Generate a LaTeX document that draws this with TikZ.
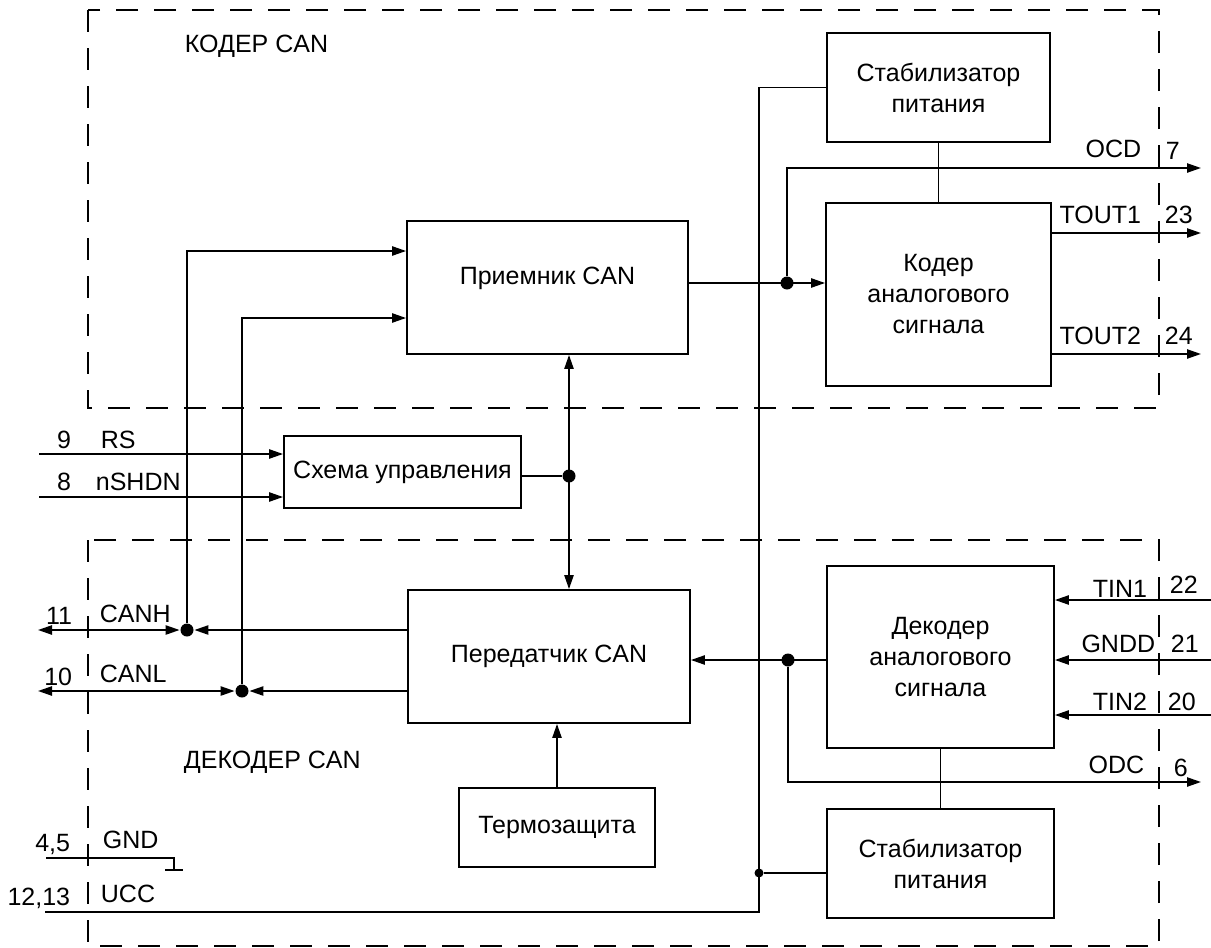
\documentclass[tikz,border=0pt]{standalone}
\usepackage{fontspec}
\setmainfont{Liberation Sans}
\usetikzlibrary{arrows.meta,positioning,calc}

\begin{document}
\begin{tikzpicture}[
x=0.5pt,
y=-0.5pt,
line width=0.9pt,
every node/.style={font=\fontsize{12.5}{15.5}\selectfont},
blk/.style={rectangle,draw,align=center,inner sep=0pt},
frame/.style={draw,dash pattern=on 11pt off 8pt},
dot/.style={circle,fill,inner sep=0pt,minimum size=6.5pt},
sdot/.style={circle,fill,inner sep=0pt,minimum size=4.5pt},
arr/.style={-{Triangle[length=7pt,width=4.6pt]}},
darr/.style={{Triangle[length=7pt,width=4.6pt]}-{Triangle[length=7pt,width=4.6pt]}},
sigl/.style={inner sep=0pt,anchor=base west},
sigr/.style={inner sep=0pt,anchor=base east},
pinl/.style={inner sep=0pt,anchor=base east},
pinr/.style={inner sep=0pt,anchor=base west}
]
\useasboundingbox (0,0) rectangle (1211,948);

\draw[frame] (88,10) rectangle (1159,408);
\draw[frame] (88,540) rectangle (1159,946);
\node[sigl] (tcod) at (184,52) {КОДЕР CAN};
\node[sigl] (tdec) at (183,768) {ДЕКОДЕР CAN};

\node[blk,minimum width=111.5pt,minimum height=54.5pt] (stabc) at (938.5,87.5) {Стабилизатор\\питания};
\node[blk,minimum width=112.5pt,minimum height=91.5pt] (coder) at (938.5,294.5) {Кодер\\аналогового\\сигнала};
\node[blk,minimum width=140.5pt,minimum height=66.5pt,text height=9pt,text depth=12pt] (rx) at (547.5,287.5) {Приемник CAN};
\node[blk,minimum width=118.5pt,minimum height=36pt] (ctrl) at (402.5,472) {Схема управления};
\node[blk,minimum width=141pt,minimum height=66.5pt] (tx) at (549,656.5) {Передатчик CAN};
\node[blk,minimum width=98pt,minimum height=39.5pt] (termo) at (557,827.5) {Термозащита};
\node[blk,minimum width=113.5pt,minimum height=91pt] (dec) at (940.5,657) {Декодер\\аналогового\\сигнала};
\node[blk,minimum width=113.5pt,minimum height=54.5pt] (stabd) at (940.5,863.5) {Стабилизатор\\питания};

\node[dot] (jcod) at (787,283) {};
\node[dot] (jctl) at (569,476) {};
\node[dot] (jcanh) at (187,630) {};
\node[dot] (jcanl) at (242,691) {};
\node[dot] (jdec) at (788,660) {};
\node[sdot] (jucc) at (759,873) {};

\coordinate (p9) at (39,454);
\coordinate (p8) at (39,497);
\coordinate (p11) at (38,630);
\coordinate (p10) at (38,691);
\coordinate (p45) at (46,858);
\coordinate (gnd) at (174,870);
\coordinate (p1213) at (45,912);
\coordinate (p7) at (1201,168);
\coordinate (p23) at (1201,233);
\coordinate (p24) at (1201,354);
\coordinate (p22) at (1211,600);
\coordinate (p21) at (1211,660);
\coordinate (p20) at (1211,715);
\coordinate (p6) at (1201,782);

\draw[arr] (rx.east |- jcod) -- (coder.west |- jcod);
\draw[arr] (jcod) |- (p7);
\draw (stabc) -- (coder);
\draw[arr] (coder.east |- p23) -- (p23);
\draw[arr] (coder.east |- p24) -- (p24);
\draw[arr] (jcanh) |- ([yshift=18.25pt]rx.west);
\draw[arr] (jcanl) |- ([yshift=-15.25pt]rx.west);
\draw[arr] (p9) -- (ctrl.west |- p9);
\draw[arr] (p8) -- (ctrl.west |- p8);
\draw (ctrl.east |- jctl) -- (jctl);
\draw[darr] (jctl |- rx.south) -- (jctl |- tx.north);
\draw[arr] (tx.west |- jcanh) -- (jcanh);
\draw[darr] (p11) -- (jcanh);
\draw[arr] (tx.west |- jcanl) -- (jcanl);
\draw[darr] (p10) -- (jcanl);
\draw[arr] (termo.north) -- (termo.north |- tx.south);
\draw[arr] (dec.west |- jdec) -- (tx.east |- jdec);
\draw[arr] (jdec) |- (p6);
\draw (dec) -- (stabd);
\draw[arr] (p22) -- (dec.east |- p22);
\draw[arr] (p21) -- (dec.east |- p21);
\draw[arr] (p20) -- (dec.east |- p20);
\draw (p1213) -| (stabc.west -| jucc) -- (stabc.west);
\draw (jucc) -- (stabd.west |- jucc);
\draw (p45) -| (gnd);
\draw ($(gnd)+(-9,0)$) -- ($(gnd)+(9,0)$);

\node[pinl] (n9) at (72,448) {9};
\node[sigl] (lrs) at (100,448) {RS};
\node[pinl] (n8) at (72,490) {8};
\node[sigl] (lshdn) at (95,490) {nSHDN};
\node[pinl] (n11) at (73,624) {11};
\node[sigl] (lcanh) at (99,622) {CANH};
\node[pinl] (n10) at (73,685) {10};
\node[sigl] (lcanl) at (99,682) {CANL};
\node[pinl] (n45) at (71,851) {4,5};
\node[sigl] (lgnd) at (102,848) {GND};
\node[pinl] (n1213) at (71,905) {12,13};
\node[sigl] (lucc) at (100,902) {UCC};

\node[sigr] (locd) at (1142,157) {OCD};
\node[pinr] (n7) at (1165,159) {7};
\node[sigr] (lt1) at (1142,223) {TOUT1};
\node[pinr] (n23) at (1164,223) {23};
\node[sigr] (lt2) at (1142,344) {TOUT2};
\node[pinr] (n24) at (1164,344) {24};
\node[sigr] (lti1) at (1148,597) {TIN1};
\node[pinr] (n22) at (1169,593) {22};
\node[sigr] (lgndd) at (1156,652) {GNDD};
\node[pinr] (n21) at (1170,652) {21};
\node[sigr] (lti2) at (1148,710) {TIN2};
\node[pinr] (n20) at (1167,710) {20};
\node[sigr] (lodc) at (1145,773) {ODC};
\node[pinr] (n6) at (1173,776) {6};
\end{tikzpicture}
\end{document}
